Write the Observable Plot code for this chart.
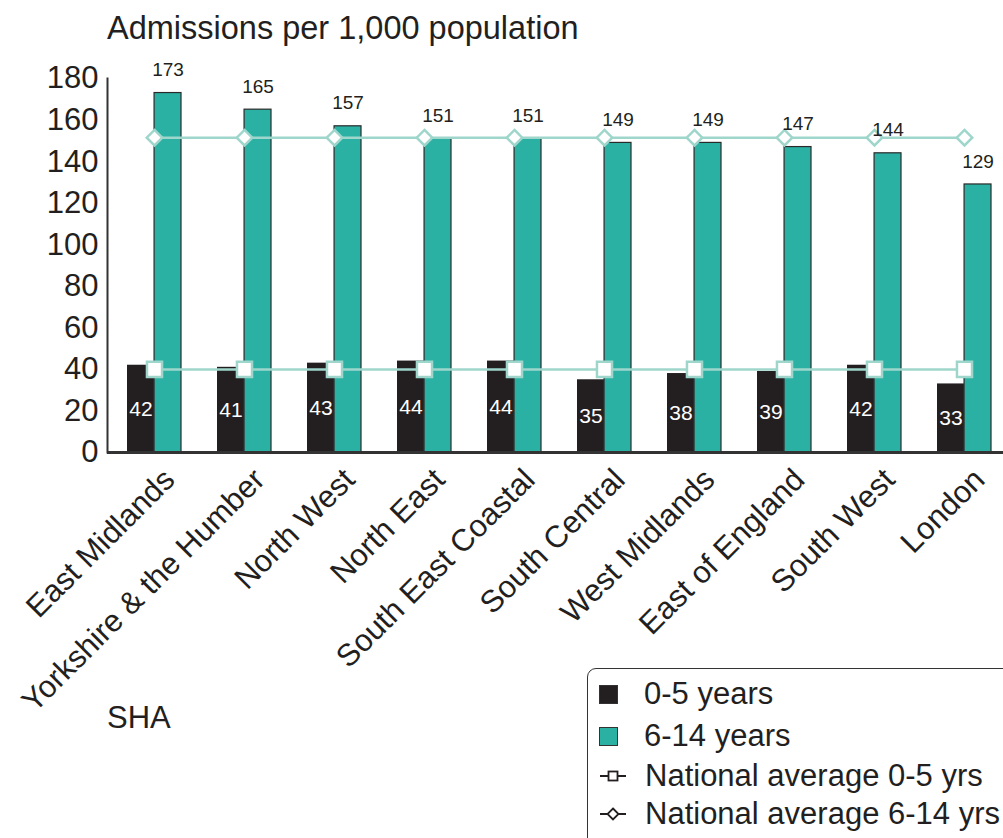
<!DOCTYPE html>
<html>
<head>
<meta charset="utf-8">
<script src="https://cdn.jsdelivr.net/npm/d3@7"></script>
<script src="https://cdn.jsdelivr.net/npm/@observablehq/plot@0.6"></script>
<style>
  html, body { margin: 0; padding: 0; overflow: hidden; background: #fff; }
  body { width: 1003px; height: 838px; position: relative; font-family: "Liberation Sans", Arial, sans-serif; color: #231f20; }
  #title { position: absolute; left: 107px; top: 10px; font-size: 32.5px; line-height: 36px; white-space: nowrap; }
  #chart { position: absolute; left: 0; top: 56px; }
  #sha { position: absolute; left: 107px; top: 700px; font-size: 31px; line-height: 36px; }
  #legend { position: absolute; left: 587px; top: 668px; width: 440px; height: 200px; border: 1.5px solid #333; border-radius: 9px; box-sizing: border-box; }
  .li { position: absolute; left: 10px; height: 36px; display: flex; align-items: center; font-size: 31px; white-space: nowrap; }
  .sw { width: 19px; height: 19px; box-sizing: border-box; border: 1px solid #333; margin-right: 26px; margin-left: 1px; }
  .ls { width: 30px; height: 20px; margin-right: 17px; }
</style>
</head>
<body>
<div id="title">Admissions per 1,000 population</div>
<div id="chart"></div>
<div id="sha">SHA</div>
<div id="legend"></div>
<script>
// ---- data ----
const regions = ["East Midlands", "Yorkshire & the Humber", "North West", "North East", "South East Coastal", "South Central", "West Midlands", "East of England", "South West", "London"];
const age0to5 = [42, 41, 43, 44, 44, 35, 38, 39, 42, 33];
const age6to14 = [173, 165, 157, 151, 151, 149, 149, 147, 144, 129];
const nationalAvg0to5 = 40;
const nationalAvg6to14 = 151.5;
const yTicks = [0, 20, 40, 60, 80, 100, 120, 140, 160, 180];
const seriesNames = ["0-5 years", "6-14 years", "National average 0-5 yrs", "National average 6-14 yrs"];

// ---- colours ----
const cBlack = "#231f20";
const cTeal = "#2bb0a4";
const cLine = "#9fd6cc";
const cText = "#231f20";

const rows = regions.map((r, i) => ({region: r, a: age0to5[i], b: age6to14[i], n0: nationalAvg0to5, n1: nationalAvg6to14}));

const W = 1003, H = 782;
const mTop = 22, mBottom = 386, mLeft = 107;
const xRange = [107, 1011];
const pInner = 0.4, pOuter = 0.21;
const step = (xRange[1] - xRange[0]) / (regions.length - pInner + 2 * pOuter);
const bw = step * (1 - pInner);
const half = bw / 2;

const font = "Liberation Sans, Arial, sans-serif";

const plot = Plot.plot({
  width: W,
  height: H,
  marginTop: mTop,
  marginBottom: mBottom,
  marginLeft: mLeft,
  marginRight: 0,
  style: {fontFamily: font, color: cText, background: "transparent", overflow: "visible"},
  x: {domain: regions, range: xRange, paddingInner: pInner, paddingOuter: pOuter, axis: null},
  y: {domain: [0, 180], axis: null},
  marks: [
    Plot.barY(rows, {x: "region", y: "a", fill: cBlack, insetRight: half}),
    Plot.barY(rows, {x: "region", y: "b", fill: cTeal, stroke: "#2a2a2a", strokeWidth: 1.2, insetLeft: half}),
    Plot.lineY(rows, {x: "region", y: "n1", stroke: cLine, strokeWidth: 2.5}),
    Plot.dot(rows, {x: "region", y: "n1", symbol: "diamond2", r: 7, fill: "white", stroke: cLine, strokeWidth: 2.5}),
    Plot.lineY(rows, {x: "region", y: "n0", stroke: cLine, strokeWidth: 2.5}),
    Plot.dot(rows, {x: "region", y: "n0", symbol: "square", r: 8.5, fill: "white", stroke: cLine, strokeWidth: 2.5}),
    Plot.text(rows, {x: "region", y: "b", text: d => String(d.b), dx: half / 2, dy: -23, fontSize: 19, fill: cText}),
    Plot.text(rows, {x: "region", y: d => d.a / 2, text: d => String(d.a), dx: -half / 2, fontSize: 21, fill: "white"}),
    Plot.ruleY([0], {stroke: "#333", strokeWidth: 3}),
    Plot.frame({anchor: "left", stroke: "#333", strokeWidth: 2}),
    Plot.axisY({ticks: yTicks, tickSize: 0, tickPadding: 9, fontSize: 31, label: null, fill: cText}),
    Plot.text(regions, {x: d => d, frameAnchor: "bottom", rotate: -45, textAnchor: "end", lineAnchor: "middle", dx: 15, dy: 22, fontSize: 31, fill: cText, text: d => d})
  ]
});
document.getElementById("chart").appendChild(plot);

// ---- legend ----
const legend = document.getElementById("legend");
const legendTops = [7, 49, 89, 127];
const sqSvg = `<svg class="ls" viewBox="0 0 30 20"><line x1="2" y1="10" x2="28" y2="10" stroke="#231f20" stroke-width="2"/><rect x="10.5" y="5.5" width="9" height="9" fill="white" stroke="#231f20" stroke-width="1.8"/></svg>`;
const dmSvg = `<svg class="ls" viewBox="0 0 30 20"><line x1="2" y1="10" x2="28" y2="10" stroke="#231f20" stroke-width="2"/><path d="M15 4.5 L20.5 10 L15 15.5 L9.5 10 Z" fill="white" stroke="#231f20" stroke-width="1.8"/></svg>`;
const swatches = [
  `<div class="sw" style="background:${cBlack}"></div>`,
  `<div class="sw" style="background:${cTeal}"></div>`,
  sqSvg,
  dmSvg
];
seriesNames.forEach((name, i) => {
  const d = document.createElement("div");
  d.className = "li";
  d.style.top = legendTops[i] + "px";
  d.innerHTML = swatches[i] + `<span>${name}</span>`;
  legend.appendChild(d);
});
</script>
</body>
</html>
